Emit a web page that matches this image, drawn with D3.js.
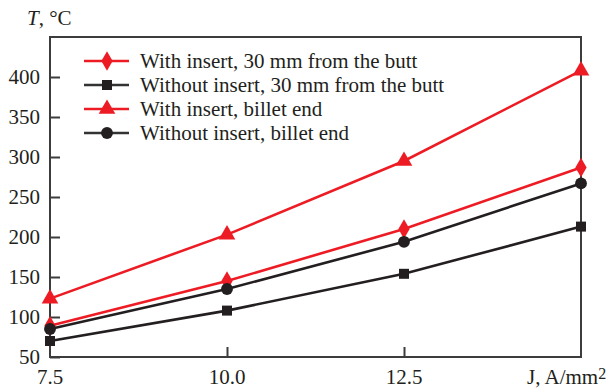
<!DOCTYPE html>
<html><head><meta charset="utf-8">
<script src="https://cdn.jsdelivr.net/npm/d3@7"></script>
<style>body{margin:0;background:#fff}svg{display:block}</style>
</head><body><svg id="c" width="609" height="390"></svg>
<script>
const xValues = [7.5, 10.0, 12.5, 15.0];
const xTickLabels = ["7.5", "10.0", "12.5"];
const yTicks = [50, 100, 150, 200, 250, 300, 350, 400];
const seriesNames = ["With insert, 30 mm from the butt", "Without insert, 30 mm from the butt", "With insert, billet end", "Without insert, billet end"];
const withInsert30 = [89, 145, 210, 287];
const withoutInsert30 = [70, 108, 154, 213];
const withInsertEnd = [123, 203, 295, 408];
const withoutInsertEnd = [85, 135, 194, 267];
const seriesColors = ["#ed1c24", "#231f20", "#ed1c24", "#231f20"];
const seriesSymbols = ["diamond", "square", "triangle", "circle"];
const seriesValues = [withInsert30, withoutInsert30, withInsertEnd, withoutInsertEnd];

const FONT = "'Liberation Serif', 'DejaVu Serif', serif";
const svg = d3.select("#c").attr("font-family", FONT);
const L = 50, R = 581, T = 37, B = 357;
const x = d3.scaleLinear().domain([7.5, 15]).range([L, R]);
const y = d3.scaleLinear().domain([50, 450]).range([B, T]);
const axisColor = "#3c3c3c";
const txt = "#231f20";

svg.append("rect").attr("x", L).attr("y", T).attr("width", R - L).attr("height", B - T)
  .attr("fill", "none").attr("stroke", axisColor).attr("stroke-width", 2);

const yAxis = d3.axisRight(y).tickValues(yTicks).tickSize(10).tickFormat("");
const gy = svg.append("g").attr("transform", `translate(${L},0)`).call(yAxis);
gy.select(".domain").remove();
gy.selectAll("line").attr("stroke", axisColor).attr("stroke-width", 2);
svg.selectAll(".ylab").data(yTicks).enter().append("text")
  .attr("x", 40).attr("y", d => y(d)).attr("dy", "0.35em").attr("text-anchor", "end")
  .attr("font-family", FONT).attr("fill", txt).attr("font-size", 21).text(d => d);

const xAxis = d3.axisTop(x).tickValues([10, 12.5]).tickSize(10).tickFormat("");
const gx = svg.append("g").attr("transform", `translate(0,${B})`).call(xAxis);
gx.select(".domain").remove();
gx.selectAll("line").attr("stroke", axisColor).attr("stroke-width", 2);
svg.selectAll(".xlab").data(xTickLabels).enter().append("text")
  .attr("x", (d, i) => x(xValues[i])).attr("y", 384).attr("text-anchor", "middle")
  .attr("font-family", FONT).attr("fill", txt).attr("font-size", 21).text(d => d);
const jl = svg.append("text").attr("x", 527).attr("y", 384).attr("font-size", 21)
  .attr("font-family", FONT).attr("fill", txt);
jl.append("tspan").text("J, A/mm");
jl.append("tspan").attr("font-size", 16).attr("dy", -5).text("2");

const tl = svg.append("text").attr("x", 27).attr("y", 25).attr("font-size", 21)
  .attr("font-family", FONT).attr("fill", txt);
tl.append("tspan").attr("font-style", "italic").text("T");
tl.append("tspan").text(", °C");

function sym(type) {
  const map = {diamond: [d3.symbolDiamond, 110], square: [d3.symbolSquare, 100], triangle: [d3.symbolTriangle, 120], circle: [d3.symbolCircle, 110]};
  return d3.symbol().type(map[type][0]).size(map[type][1])();
}

const line = d3.line().x((d, i) => x(xValues[i])).y(d => y(d));
seriesValues.forEach((vals, s) => {
  svg.append("path").attr("d", line(vals)).attr("fill", "none")
    .attr("stroke", seriesColors[s]).attr("stroke-width", 2.6);
  svg.selectAll(null).data(vals).enter().append("path")
    .attr("d", sym(seriesSymbols[s]))
    .attr("transform", (d, i) => `translate(${x(xValues[i])},${y(d)})`)
    .attr("fill", seriesColors[s]);
});

const lg = svg.append("g");
seriesNames.forEach((name, s) => {
  const yy = 61 + s * 24;
  lg.append("line").attr("x1", 84).attr("x2", 129).attr("y1", yy).attr("y2", yy)
    .attr("stroke", seriesColors[s] === "#231f20" ? "#333" : seriesColors[s]).attr("stroke-width", 2.6);
  lg.append("path").attr("d", sym(seriesSymbols[s])).attr("transform", `translate(107,${yy})`)
    .attr("fill", seriesColors[s]);
  lg.append("text").attr("x", 140).attr("y", yy).attr("dy", "0.33em").attr("font-size", 21)
    .attr("font-family", FONT).attr("fill", txt).text(name);
});
</script></body></html>
